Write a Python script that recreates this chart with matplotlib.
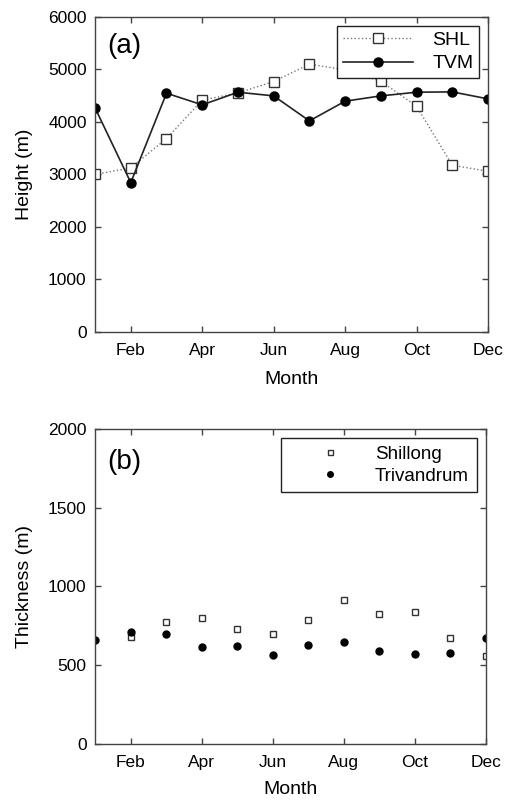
import matplotlib
matplotlib.use('Agg')
import matplotlib.pyplot as plt
import numpy as np

plt.rcParams['font.family'] = ['Liberation Sans', 'DejaVu Sans']

months = np.arange(1, 13)
tick_months = [2, 4, 6, 8, 10, 12]
tick_labels = ['Feb', 'Apr', 'Jun', 'Aug', 'Oct', 'Dec']

# panel (a) heights in m
shl_height = [3000, 3124, 3683, 4413, 4552, 4768, 5098, 4990, 4775, 4298, 3175, 3060]
tvm_height = [4267, 2844, 4546, 4324, 4565, 4495, 4019, 4394, 4495, 4565, 4571, 4438]

# panel (b) thickness in m (no Shillong value for Jan)
shillong_thick = [np.nan, 680, 775, 799, 729, 701, 786, 913, 824, 835, 676, 561]
trivandrum_thick = [661, 714, 699, 614, 625, 564, 629, 646, 591, 574, 578, 674]

fig = plt.figure(figsize=(5.11, 8.01), dpi=100)
ax1 = fig.add_axes([0.186, 0.5855, 0.769, 0.3935])
ax2 = fig.add_axes([0.186, 0.0712, 0.765, 0.3932])

edge = '#444444'

def style(ax, lpad):
    for s in ax.spines.values():
        s.set_color(edge)
        s.set_linewidth(1.0)
    ax.tick_params(direction='in', length=4, width=1, color=edge,
                   top=True, right=True, labelsize=12.5, pad=6)
    ax.tick_params(axis='x', pad=8)
    ax.set_xlim(1, 12)
    ax.set_xticks(tick_months)
    ax.set_xticklabels(tick_labels)
    ax.set_xlabel('Month', fontsize=14, labelpad=lpad)

ax1.plot(months, shl_height, linestyle=':', color='#777777', linewidth=1.0,
         marker='s', markersize=6.5, markerfacecolor='white', markeredgecolor='#333333',
         markeredgewidth=1.0, label='SHL')
ax1.plot(months, tvm_height, linestyle='-', color='#222222', linewidth=1.2,
         marker='o', markersize=6.5, markerfacecolor='black', markeredgecolor='black',
         label='TVM')
style(ax1, 9)
ax1.set_ylim(0, 6000)
ax1.set_yticks(range(0, 6001, 1000))
ax1.set_ylabel('Height (m)', fontsize=14, labelpad=11)
ax1.text(0.032, 0.908, '(a)', transform=ax1.transAxes, fontsize=20, va='center')
leg1 = ax1.legend(loc='upper right', fontsize=14, fancybox=False, framealpha=1,
                  handlelength=3.6, borderpad=0.3, labelspacing=0.3,
                  borderaxespad=0.45, handletextpad=1.0)
leg1.get_frame().set_edgecolor('#222222')
leg1.get_frame().set_linewidth(1.0)

ax2.plot(months, shillong_thick, linestyle='none', marker='s', markersize=4.5,
         markerfacecolor='white', markeredgecolor='#333333', markeredgewidth=1.0,
         label='Shillong')
ax2.plot(months, trivandrum_thick, linestyle='none', marker='o', markersize=5,
         markerfacecolor='black', markeredgecolor='black', label='Trivandrum')
style(ax2, 8)
ax2.set_ylim(0, 2000)
ax2.set_yticks(range(0, 2001, 500))
ax2.set_ylabel('Thickness (m)', fontsize=14, labelpad=11)
ax2.text(0.032, 0.895, '(b)', transform=ax2.transAxes, fontsize=20, va='center')
leg2 = ax2.legend(loc='upper right', fontsize=13.5, fancybox=False, framealpha=1,
                  handlelength=4.4, borderpad=0.4, labelspacing=0.25,
                  borderaxespad=0.5, handletextpad=0.2, markerscale=0.8)
leg2.get_frame().set_edgecolor('#222222')
leg2.get_frame().set_linewidth(1.0)

fig.savefig('out.png', dpi=100)
